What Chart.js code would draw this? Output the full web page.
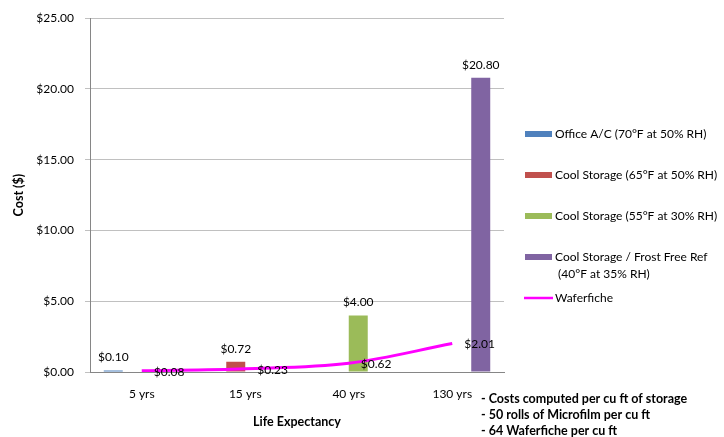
<!DOCTYPE html>
<html>
<head>
<meta charset="utf-8">
<script src="https://cdn.jsdelivr.net/npm/chart.js@4"></script>
<style>
  html, body { margin: 0; padding: 0; background: #fff; }
  #wrap { width: 724px; height: 437px; position: relative; }
</style>
</head>
<body>
<div id="wrap"><canvas id="costChart" width="724" height="437"></canvas></div>
<script>
// values
const categories = ['5 yrs', '15 yrs', '40 yrs', '130 yrs'];
const officeAC = [0.10, null, null, null];
const cool65 = [null, 0.72, null, null];
const cool55 = [null, null, 4.00, null];
const cool40 = [null, null, null, 20.80];
const waferfiche = [0.08, 0.23, 0.62, 2.01];
const yTicks = [0, 5, 10, 15, 20, 25];
const notes = ['- Costs computed per cu ft of storage', '- 50 rolls of Microfilm per cu ft', '- 64 Waferfiche per cu ft'];

const FONT = 'Lato, "Liberation Sans", sans-serif';
const money = v => '$' + Number(v).toFixed(2);

const legendItems = [
  { text: ['Office A/C (70°F at 50% RH)'], color: '#4F81BD', y: 134 },
  { text: ['Cool Storage (65°F at 50% RH)'], color: '#C0504D', y: 175 },
  { text: ['Cool Storage (55°F at 30% RH)'], color: '#9BBB59', y: 216 },
  { text: ['Cool Storage / Frost Free Ref', ' (40°F at 35% RH)'], color: '#8064A2', y: 257 },
  { text: ['Waferfiche'], color: '#FF00FF', y: 298, line: true }
];

// value labels, side legend and notes
const extras = {
  id: 'extras',
  afterDatasetsDraw(chart) {
    const ctx = chart.ctx;
    ctx.save();
    ctx.font = '12px ' + FONT;
    ctx.fillStyle = '#000';
    chart.data.datasets.forEach((ds, i) => {
      const meta = chart.getDatasetMeta(i);
      meta.data.forEach((el, j) => {
        const v = ds.data[j];
        if (v === null) return;
        ctx.textBaseline = 'middle';
        if (ds.type === 'line') {
          ctx.textAlign = 'left';
          ctx.fillText(money(v), el.x + 12, el.y + 1);
        } else {
          ctx.textAlign = 'center';
          ctx.fillText(money(v), el.x, el.y - 13);
        }
      });
    });
    ctx.restore();
  },
  afterDraw(chart) {
    const ctx = chart.ctx;
    ctx.save();
    ctx.font = '12px ' + FONT;
    ctx.textAlign = 'left';
    ctx.textBaseline = 'middle';
    legendItems.forEach(it => {
      if (it.line) {
        ctx.strokeStyle = it.color;
        ctx.lineWidth = 2.5;
        ctx.beginPath();
        ctx.moveTo(524, it.y);
        ctx.lineTo(553, it.y);
        ctx.stroke();
      } else {
        ctx.fillStyle = it.color;
        ctx.fillRect(525, it.y - 3, 27, 6);
      }
      ctx.fillStyle = '#000';
      it.text.forEach((t, k) => ctx.fillText(t, 555, it.y + k * 17));
    });
    ctx.font = 'bold 12.5px ' + FONT;
    notes.forEach((t, k) => ctx.fillText(t, 481, 399 + k * 16));
    ctx.restore();
  }
};

new Chart(document.getElementById('costChart'), {
  data: {
    labels: categories,
    datasets: [
      { type: 'line', label: 'Waferfiche', data: waferfiche, borderColor: '#FF00FF', borderWidth: 3,
        pointRadius: 0, tension: 0.35, order: 0 },
      { type: 'bar', label: 'Office A/C (70°F at 50% RH)', data: officeAC, backgroundColor: '#4F81BD', order: 1 },
      { type: 'bar', label: 'Cool Storage (65°F at 50% RH)', data: cool65, backgroundColor: '#C0504D', order: 1 },
      { type: 'bar', label: 'Cool Storage (55°F at 30% RH)', data: cool55, backgroundColor: '#9BBB59', order: 1 },
      { type: 'bar', label: 'Cool Storage / Frost Free Ref (40°F at 35% RH)', data: cool40, backgroundColor: '#8064A2', order: 1 }
    ]
  },
  options: {
    responsive: false,
    animation: false,
    layout: { padding: { top: 18, right: 220, bottom: 0, left: 0 } },
    datasets: { bar: { categoryPercentage: 0.734, barPercentage: 1, grouped: true } },
    plugins: { legend: { display: false }, tooltip: { enabled: false } },
    scales: {
      x: {
        grid: { display: false, drawTicks: false },
        border: { display: true, color: '#868686', width: 1 },
        ticks: { color: '#000', font: { family: FONT, size: 12 }, padding: 15, maxRotation: 0 },
        title: { display: true, text: 'Life Expectancy', color: '#000',
                 font: { family: FONT, size: 12.5, weight: 'bold' }, padding: { bottom: 8 } },
        afterFit: s => { s.height = 65; }
      },
      y: {
        min: 0, max: 25,
        afterBuildTicks: s => { s.ticks = yTicks.map(v => ({ value: v })); },
        grid: { color: '#C0C0C0', lineWidth: 1, tickLength: 5, drawTicks: true },
        border: { display: true, color: '#868686', width: 1 },
        ticks: { color: '#000', font: { family: FONT, size: 12 }, padding: 11, callback: v => money(v) },
        title: { display: true, text: 'Cost ($)', color: '#000',
                 font: { family: FONT, size: 12.5, weight: 'bold' }, padding: { top: 11 } },
        afterFit: s => { s.width = 90; }
      }
    }
  },
  plugins: [extras]
});
</script>
</body>
</html>
